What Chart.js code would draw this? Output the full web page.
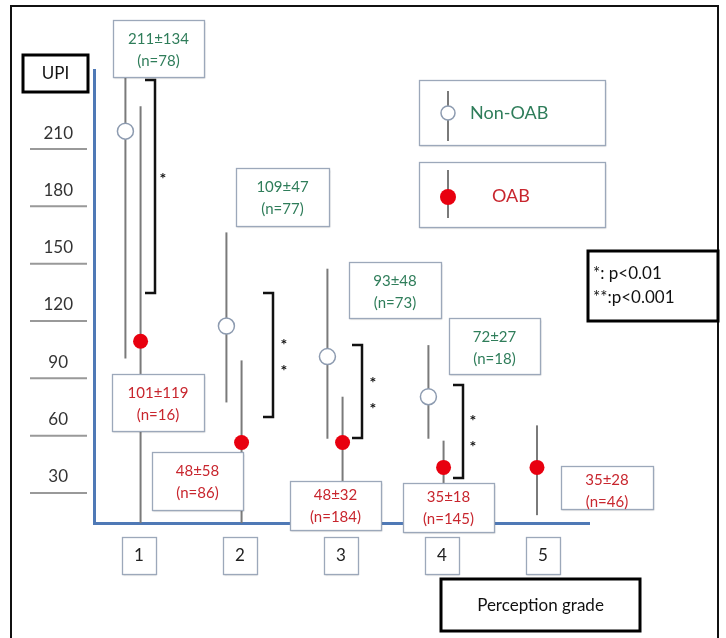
<!DOCTYPE html>
<html><head><meta charset="utf-8">
<script src="https://cdn.jsdelivr.net/npm/chart.js@4.4.1/dist/chart.umd.min.js"></script>
<style>html,body{margin:0;padding:0;background:#fff}#wrap{position:relative;width:726px;height:638px}</style>
</head><body><div id="wrap"><canvas id="c" width="726" height="638"></canvas></div>
<script>
// ---- data ----
const grades = [1, 2, 3, 4, 5];
const gradeLabels = ['1', '2', '3', '4', '5'];
const yTickValues = [210, 180, 150, 120, 90, 60, 30];

const nonOabGrades = [1, 2, 3, 4];
const nonOabMean = [211, 109, 93, 72];
const nonOabSD = [134, 47, 48, 27];
const nonOabN = [78, 77, 73, 18];
const nonOabLow = [92, 69, 50, 50];
const nonOabHigh = [345, 158, 139, 99];

const oabGrades = [1, 2, 3, 4, 5];
const oabMean = [101, 48, 48, 35, 35];
const oabSD = [119, 58, 32, 18, 28];
const oabN = [16, 86, 184, 145, 46];
const oabLow = [-18, -10, 16, 17, 10];
const oabHigh = [224, 91, 72, 49, 57];

const sigGrades = [1, 2, 3, 4];
const sigMarks = ['*', '**', '**', '**'];

const yTitle = 'UPI';
const xTitle = 'Perception grade';
const pNotes = ['*: p<0.01', '**:p<0.001'];

// ---- styling / layout ----
const FONT = 'Lato, "Open Sans", sans-serif';
const GREEN = '#2f7d5a', RED = '#c8262e', DOT = '#e8000f';
const AXIS = '#4f79b6', WHISK = '#7a7a7a', BOXLINE = '#9ca8ba';
const DX = 0.075;
const hasPair = g => nonOabGrades.includes(g) && oabGrades.includes(g);

// annotation box rectangles [x, y, w, h]
const nonBoxes = [[113, 20, 91, 57], [236, 168, 93, 58], [349, 262, 92, 56], [449, 318, 91, 56]];
const oabBoxes = [[112, 374, 92, 57], [152, 452, 91, 58], [290, 481, 91, 49], [403, 483, 91, 49], [561, 466, 92, 43]];
// brackets [x, yTop, yBottom, starX, starY0]
const brackets = [[155, 80, 293, 163, 176], [273, 293, 417, 284, 342], [362, 345, 438, 373, 380], [463, 385, 478, 473, 418]];

function box(ctx, x, y, w, h, shadow) {
  ctx.save();
  if (shadow) {
    ctx.shadowColor = 'rgba(0,0,0,0.28)';
    ctx.shadowOffsetX = 1; ctx.shadowOffsetY = 1.5; ctx.shadowBlur = 1.5;
  }
  ctx.fillStyle = '#fff';
  ctx.fillRect(x, y, w, h);
  ctx.restore();
  ctx.save();
  ctx.strokeStyle = BOXLINE; ctx.lineWidth = 1.3;
  ctx.strokeRect(x + 0.5, y + 0.5, w, h);
  ctx.restore();
}
function thickBox(ctx, x, y, w, h) {
  ctx.save();
  ctx.fillStyle = '#fff'; ctx.fillRect(x, y, w, h);
  ctx.strokeStyle = '#000'; ctx.lineWidth = 3;
  ctx.strokeRect(x, y, w, h);
  ctx.restore();
}

const deco = {
  id: 'deco',
  beforeDraw(chart) {
    const ctx = chart.ctx;
    ctx.save();
    ctx.fillStyle = '#fff'; ctx.fillRect(0, 0, chart.width, chart.height);
    ctx.strokeStyle = '#111'; ctx.lineWidth = 2;
    ctx.beginPath();
    ctx.moveTo(11, 638); ctx.lineTo(11, 6); ctx.lineTo(718, 6); ctx.lineTo(718, 638);
    ctx.stroke();
    // small rules under the tick labels
    const ys = chart.scales.y;
    ctx.strokeStyle = '#999'; ctx.lineWidth = 2;
    yTickValues.forEach(v => {
      const p = ys.getPixelForValue(v) + 16;
      ctx.beginPath(); ctx.moveTo(30, p); ctx.lineTo(87, p); ctx.stroke();
    });
    ctx.restore();
  },
  beforeDatasetsDraw(chart) {
    const ctx = chart.ctx, xs = chart.scales.x, ys = chart.scales.y, a = chart.chartArea;
    ctx.save();
    ctx.beginPath(); ctx.rect(a.left, a.top, a.right - a.left, a.bottom - a.top); ctx.clip();
    ctx.strokeStyle = WHISK; ctx.lineWidth = 2;
    const bar = (xv, lo, hi) => {
      const x = xs.getPixelForValue(xv);
      ctx.beginPath(); ctx.moveTo(x, ys.getPixelForValue(hi)); ctx.lineTo(x, ys.getPixelForValue(lo)); ctx.stroke();
    };
    nonOabGrades.forEach((g, i) => bar(hasPair(g) ? g - DX : g, nonOabLow[i], nonOabHigh[i]));
    oabGrades.forEach((g, i) => bar(hasPair(g) ? g + DX : g, oabLow[i], oabHigh[i]));
    ctx.restore();
  },
  afterDatasetsDraw(chart) {
    const ctx = chart.ctx, xs = chart.scales.x;
    ctx.save();
    ctx.textAlign = 'center'; ctx.textBaseline = 'middle';
    // value boxes
    const drawVal = (r, mean, sd, n, col) => {
      box(ctx, r[0], r[1], r[2], r[3], true);
      ctx.fillStyle = col; ctx.font = '15px ' + FONT;
      const cx = r[0] + r[2] / 2;
      const off = r[3] < 52 ? 14 : 19;
      ctx.fillText(mean + '±' + sd, cx, r[1] + off);
      ctx.fillText('(n=' + n + ')', cx, r[1] + off + 22);
    };
    nonOabGrades.forEach((g, i) => drawVal(nonBoxes[i], nonOabMean[i], nonOabSD[i], nonOabN[i], GREEN));
    oabGrades.forEach((g, i) => drawVal(oabBoxes[i], oabMean[i], oabSD[i], oabN[i], RED));
    // significance brackets
    ctx.strokeStyle = '#111'; ctx.lineWidth = 2.5; ctx.lineJoin = 'miter';
    sigGrades.forEach((g, i) => {
      const b = brackets[i];
      ctx.beginPath(); ctx.moveTo(b[0] - 10, b[1]); ctx.lineTo(b[0], b[1]); ctx.lineTo(b[0], b[2]); ctx.lineTo(b[0] - 10, b[2]); ctx.stroke();
      ctx.fillStyle = '#111'; ctx.font = 'bold 16px ' + FONT;
      [...sigMarks[i]].forEach((s, k) => ctx.fillText(s, b[3], b[4] + 3 + k * 26));
    });
    // legend
    box(ctx, 419, 80, 186, 65, true);
    box(ctx, 419, 162, 186, 65, true);
    ctx.strokeStyle = WHISK; ctx.lineWidth = 2;
    ctx.beginPath(); ctx.moveTo(448, 91); ctx.lineTo(448, 141); ctx.stroke();
    ctx.beginPath(); ctx.moveTo(448, 170); ctx.lineTo(448, 218); ctx.stroke();
    ctx.beginPath(); ctx.arc(448, 113, 7, 0, Math.PI * 2); ctx.fillStyle = '#fff'; ctx.fill();
    ctx.strokeStyle = '#8d9bb0'; ctx.lineWidth = 1.5; ctx.stroke();
    ctx.beginPath(); ctx.arc(448, 197, 8, 0, Math.PI * 2); ctx.fillStyle = DOT; ctx.fill();
    ctx.textAlign = 'left'; ctx.font = '18px ' + FONT;
    ctx.fillStyle = GREEN; ctx.fillText(chart.data.datasets[0].label, 470, 113);
    ctx.fillStyle = RED; ctx.fillText(chart.data.datasets[1].label, 492, 196);
    // p-value note
    thickBox(ctx, 588, 251, 130, 70);
    ctx.fillStyle = '#111'; ctx.font = '17px ' + FONT;
    ctx.fillText(pNotes[0], 593, 274);
    ctx.fillText(pNotes[1], 593, 298);
    // axis titles
    thickBox(ctx, 23, 55, 65, 37);
    thickBox(ctx, 441, 579, 199, 52);
    ctx.textAlign = 'center';
    ctx.font = '17px ' + FONT;
    ctx.fillText(yTitle, 55.5, 74);
    ctx.fillText(xTitle, 540.5, 606);
    // grade boxes under the axis
    grades.forEach((g, i) => {
      const cx = xs.getPixelForValue(g) + 6;
      box(ctx, cx - 17, 537, 34, 37, true);
      ctx.fillStyle = '#222'; ctx.font = '17px ' + FONT;
      ctx.fillText(gradeLabels[i], cx, 556);
    });
    ctx.restore();
  }
};

new Chart(document.getElementById('c'), {
  type: 'scatter',
  data: {
    datasets: [
      { label: 'Non-OAB',
        data: nonOabGrades.map((g, i) => ({ x: hasPair(g) ? g - DX : g, y: nonOabMean[i] })),
        pointRadius: 8, pointBackgroundColor: '#fff', pointBorderColor: '#8d9bb0', pointBorderWidth: 1.5 },
      { label: 'OAB',
        data: oabGrades.map((g, i) => ({ x: hasPair(g) ? g + DX : g, y: oabMean[i] })),
        pointRadius: 7.5, pointBackgroundColor: DOT, pointBorderColor: DOT, pointBorderWidth: 0 }
    ]
  },
  options: {
    responsive: false, animation: false, devicePixelRatio: 1,
    layout: { padding: { left: 22, right: 137, top: 70, bottom: 115 } },
    plugins: { legend: { display: false }, tooltip: { enabled: false } },
    scales: {
      x: { type: 'linear', min: 0.6139, max: 5.515,
        grid: { display: false, drawTicks: false, tickLength: 0 },
        ticks: { display: false },
        border: { display: true, color: AXIS, width: 3 },
        afterFit(s) { s.height = 0; } },
      y: { type: 'linear', min: 5.9, max: 243,
        grid: { display: false, drawTicks: false, tickLength: 0 },
        border: { display: true, color: AXIS, width: 3 },
        afterBuildTicks(s) { s.ticks = yTickValues.map(v => ({ value: v })); },
        ticks: { autoSkip: false, font: { family: FONT, size: 17 }, color: '#333', crossAlign: 'center', padding: 21,
          callback: v => String(v) },
        afterFit(s) { s.width = 72; } }
    }
  },
  plugins: [deco]
});
</script></body></html>
